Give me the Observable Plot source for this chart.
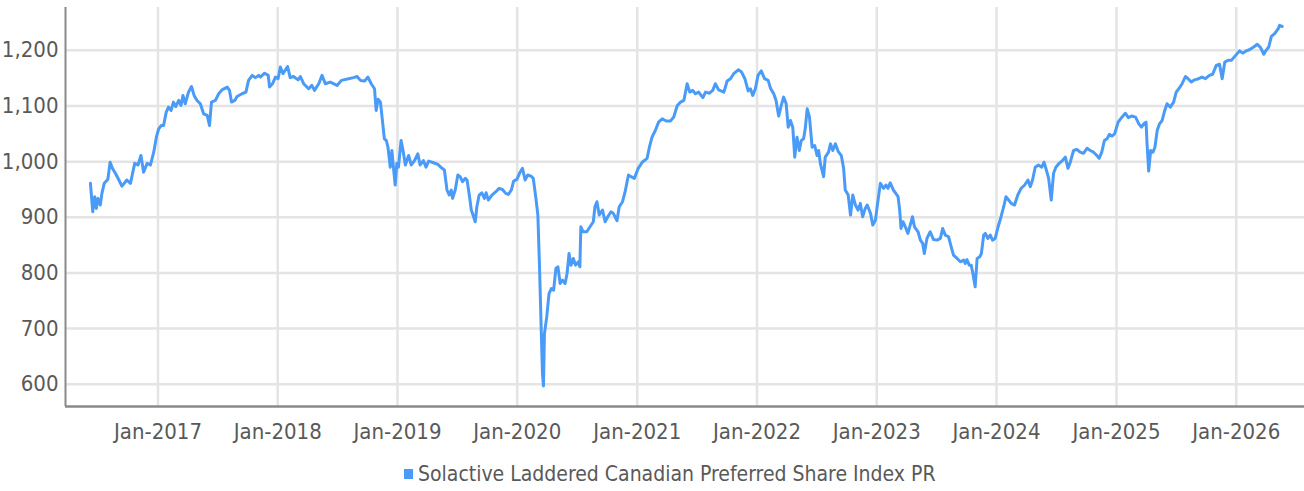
<!DOCTYPE html>
<html>
<head>
<meta charset="utf-8">
<script src="https://cdn.jsdelivr.net/npm/d3@7"></script>
<script src="https://cdn.jsdelivr.net/npm/@observablehq/plot@0.6"></script>
<style>
  html, body { margin: 0; padding: 0; background: #fff; }
  body { width: 1304px; height: 491px; position: relative; overflow: hidden;
         font-family: "Liberation Sans Narrow", "DejaVu Sans Condensed", "Roboto", sans-serif; color: #595959; }
  #legend { position: absolute; left: 404px; top: 462px; font-size: 21px; display: flex; align-items: center; white-space: nowrap; }
  #legend .sw { width: 9px; height: 10px; background: #4a9bf8; margin-right: 5px; }
</style>
</head>
<body>
<div id="chart"></div>
<div id="legend"><span class="sw"></span><span id="legend-text"></span></div>
<script>
const seriesName = "Solactive Laddered Canadian Preferred Share Index PR";
const lineColor = "#4a9bf8";

const dates = [
"2016-06-09","2016-06-16","2016-06-22","2016-06-27","2016-07-02","2016-07-09","2016-07-14","2016-07-21","2016-08-01","2016-08-08","2016-08-15","2016-08-27","2016-09-13","2016-09-28","2016-10-09","2016-10-22","2016-11-01","2016-11-10","2016-11-18","2016-11-29","2016-12-09","2016-12-19","2016-12-27",
"2017-01-03","2017-01-11","2017-01-18","2017-01-26","2017-02-02","2017-02-10","2017-02-17","2017-02-24","2017-03-05","2017-03-12","2017-03-18","2017-03-25","2017-04-04","2017-04-13","2017-04-21","2017-04-30","2017-05-10","2017-05-20","2017-05-31","2017-06-07","2017-06-13","2017-06-25","2017-07-05","2017-07-15","2017-07-31","2017-08-07","2017-08-13","2017-08-23","2017-08-30","2017-09-14","2017-09-26","2017-10-04","2017-10-15","2017-10-25","2017-11-04","2017-11-09","2017-11-22","2017-12-03","2017-12-07","2017-12-17","2017-12-25",
"2018-01-02","2018-01-09","2018-01-17","2018-01-31","2018-02-08","2018-02-18","2018-03-04","2018-03-11","2018-03-21","2018-04-05","2018-04-15","2018-04-23","2018-05-06","2018-05-16","2018-05-26","2018-06-10","2018-07-01","2018-07-14","2018-08-05","2018-08-20","2018-08-31","2018-09-10","2018-09-23","2018-10-03","2018-10-13","2018-10-23","2018-10-28","2018-11-03","2018-11-10","2018-11-15","2018-11-22","2018-11-28","2018-12-03","2018-12-10","2018-12-15","2018-12-20","2018-12-25","2018-12-30",
"2019-01-04","2019-01-12","2019-01-18","2019-01-25","2019-02-04","2019-02-12","2019-02-22","2019-03-04","2019-03-11","2019-03-21","2019-03-29","2019-04-06","2019-04-21","2019-05-04","2019-05-17","2019-05-24","2019-06-01","2019-06-08","2019-06-14","2019-06-18","2019-06-26","2019-07-04","2019-07-11","2019-07-18","2019-07-27","2019-08-01","2019-08-08","2019-08-14","2019-08-21","2019-08-26","2019-08-31","2019-09-07","2019-09-15","2019-09-23","2019-09-28","2019-10-05","2019-10-16","2019-10-28","2019-11-07","2019-11-17","2019-11-27","2019-12-05","2019-12-14","2019-12-21","2019-12-31",
"2020-01-08","2020-01-17","2020-01-25","2020-02-02","2020-02-12","2020-02-19","2020-02-27","2020-03-04","2020-03-09","2020-03-14","2020-03-18","2020-03-21","2020-03-24","2020-03-31","2020-04-07","2020-04-14","2020-04-21","2020-04-28","2020-05-04","2020-05-11","2020-05-18","2020-05-26","2020-06-01","2020-06-07","2020-06-13","2020-06-20","2020-06-27","2020-07-05","2020-07-10","2020-07-13","2020-07-20","2020-07-31","2020-08-10","2020-08-20","2020-08-25","2020-08-31","2020-09-07","2020-09-10","2020-09-17","2020-09-25","2020-10-03","2020-10-13","2020-10-20","2020-10-31","2020-11-07","2020-11-17","2020-11-25","2020-12-05","2020-12-13","2020-12-23",
"2021-01-04","2021-01-16","2021-01-31","2021-02-07","2021-02-15","2021-02-25","2021-03-07","2021-03-18","2021-03-30","2021-04-12","2021-04-22","2021-05-03","2021-05-13","2021-05-23","2021-06-02","2021-06-10","2021-06-19","2021-06-27","2021-07-07","2021-07-20","2021-07-28","2021-08-09","2021-08-19","2021-08-27","2021-09-06","2021-09-22","2021-10-02","2021-10-12","2021-10-22","2021-11-05","2021-11-15","2021-11-25","2021-12-05","2021-12-12","2021-12-19","2021-12-27",
"2022-01-04","2022-01-14","2022-01-24","2022-02-04","2022-02-11","2022-02-21","2022-02-28","2022-03-08","2022-03-16","2022-03-23","2022-03-31","2022-04-06","2022-04-13","2022-04-20","2022-04-26","2022-05-03","2022-05-10","2022-05-16","2022-05-23","2022-05-28","2022-06-03","2022-06-10","2022-06-18","2022-06-26","2022-07-03","2022-07-08","2022-07-13","2022-07-23","2022-07-28","2022-08-07","2022-08-13","2022-08-20","2022-08-28","2022-09-05","2022-09-15","2022-09-22","2022-09-27","2022-10-06","2022-10-13","2022-10-20","2022-10-28","2022-11-05","2022-11-12","2022-11-19","2022-11-27","2022-12-03","2022-12-13","2022-12-20","2022-12-28",
"2023-01-05","2023-01-12","2023-01-22","2023-01-29","2023-02-04","2023-02-11","2023-02-21","2023-03-07","2023-03-12","2023-03-16","2023-03-22","2023-03-29","2023-04-06","2023-04-13","2023-04-20","2023-04-26","2023-05-07","2023-05-14","2023-05-21","2023-05-26","2023-06-03","2023-06-13","2023-06-23","2023-07-04","2023-07-14","2023-07-21","2023-07-29","2023-08-08","2023-08-16","2023-08-23","2023-09-03","2023-09-13","2023-09-23","2023-09-28","2023-10-03","2023-10-10","2023-10-16","2023-10-21","2023-10-28","2023-11-03","2023-11-11","2023-11-16","2023-11-23","2023-11-28","2023-12-06","2023-12-13","2023-12-20","2023-12-28",
"2024-01-06","2024-01-15","2024-01-23","2024-01-30","2024-02-07","2024-02-15","2024-02-25","2024-03-06","2024-03-16","2024-03-27","2024-04-06","2024-04-13","2024-04-20","2024-04-28","2024-05-08","2024-05-18","2024-05-25","2024-06-01","2024-06-08","2024-06-16","2024-06-23","2024-06-30","2024-07-10","2024-07-20","2024-07-29","2024-08-06","2024-08-13","2024-08-23","2024-09-02","2024-09-12","2024-09-22","2024-10-03","2024-10-13","2024-10-23","2024-11-02","2024-11-09","2024-11-17","2024-11-25","2024-12-03","2024-12-10","2024-12-18","2024-12-26",
"2025-01-06","2025-01-16","2025-01-28","2025-02-06","2025-02-16","2025-02-28","2025-03-10","2025-03-18","2025-03-25","2025-04-01","2025-04-04","2025-04-09","2025-04-15","2025-04-22","2025-04-28","2025-05-05","2025-05-12","2025-05-20","2025-05-28","2025-06-04","2025-06-14","2025-06-24","2025-07-02","2025-07-12","2025-07-20","2025-07-30","2025-08-07","2025-08-17","2025-08-27","2025-09-08","2025-09-19","2025-09-29","2025-10-11","2025-10-21","2025-11-01","2025-11-11","2025-11-19","2025-11-27","2025-12-07","2025-12-17","2025-12-30",
"2026-01-11","2026-01-21","2026-01-31","2026-02-10","2026-02-23","2026-03-06","2026-03-16","2026-03-26","2026-04-02","2026-04-10","2026-04-18","2026-04-28","2026-05-09","2026-05-13","2026-05-21"
];

const values = [
961,910,937,916,934,922,943,961,968,999,988,976,956,967,961,997,994,1011,981,997,994,1017,1044,
1059,1065,1065,1089,1098,1092,1107,1099,1110,1101,1119,1104,1125,1135,1119,1110,1104,1086,1083,1065,1107,1110,1122,1129,1134,1128,1107,1110,1117,1122,1125,1146,1155,1151,1155,1152,1159,1155,1134,1141,1152,
1149,1170,1158,1171,1151,1153,1147,1153,1140,1131,1137,1128,1140,1155,1140,1143,1137,1146,1149,1151,1153,1146,1145,1152,1140,1131,1092,1112,1107,1080,1041,1038,1026,990,1020,988,958,997,
990,1038,1020,994,1011,994,1002,1014,994,1002,990,1001,998,995,988,985,949,940,949,934,949,976,973,964,970,967,940,913,901,892,919,940,944,934,944,931,940,946,952,950,943,941,949,965,968,
979,988,967,976,974,970,934,904,811,703,619,597,691,721,763,772,769,808,811,781,787,781,799,835,814,826,814,820,811,883,874,874,883,892,919,928,904,907,913,892,901,910,907,894,919,928,946,976,973,970,
988,999,1006,1026,1044,1056,1071,1077,1073,1073,1080,1101,1107,1110,1140,1125,1128,1122,1125,1115,1125,1123,1128,1140,1129,1125,1145,1149,1158,1165,1161,1149,1127,1131,1119,1131,
1155,1163,1149,1146,1132,1122,1110,1082,1101,1116,1104,1062,1074,1062,1008,1044,1020,1038,1041,1059,1095,1080,1026,1029,1011,1020,997,973,1008,1017,1032,1020,1032,1019,1011,988,949,940,904,940,922,913,925,901,916,922,907,886,895,
931,961,952,958,952,962,949,937,913,880,892,883,871,886,901,883,874,859,853,835,862,874,860,859,862,880,868,865,847,832,826,820,823,817,824,814,814,799,775,826,829,835,868,871,862,868,859,862,
883,901,919,937,931,925,922,940,952,958,967,955,967,990,994,990,999,985,970,931,979,990,997,1002,1008,988,999,1020,1022,1017,1015,1024,1020,1017,1011,1006,1017,1038,1041,1049,1046,1050,
1071,1079,1087,1079,1082,1080,1068,1062,1068,1071,1032,983,1020,1017,1026,1056,1068,1074,1092,1104,1098,1107,1125,1133,1140,1153,1149,1143,1147,1149,1152,1149,1155,1157,1173,1175,1149,1179,1182,1182,1191,
1199,1195,1199,1201,1206,1211,1205,1193,1200,1206,1225,1230,1239,1245,1243
];

const yTicks = [600, 700, 800, 900, 1000, 1100, 1200];
const xTickYears = [2017, 2018, 2019, 2020, 2021, 2022, 2023, 2024, 2025, 2026];
const xDomain = ["2016-03-25", "2026-07-28"];
const yDomain = [560, 1277];

const parse = d3.utcParse("%Y-%m-%d");
const data = dates.map((d, i) => ({date: parse(d), value: values[i]}));
const xTicks = xTickYears.map(y => new Date(Date.UTC(y, 0, 1)));
const font = '"Liberation Sans Narrow", "DejaVu Sans Condensed", "Roboto", sans-serif';

const chart = Plot.plot({
  width: 1304,
  height: 450,
  marginLeft: 65,
  marginRight: 0,
  marginTop: 7,
  marginBottom: 44,
  style: {fontFamily: font, fontSize: "22px", color: "#595959", background: "#fff"},
  x: {type: "utc", domain: xDomain.map(parse), label: null},
  y: {domain: yDomain, label: null},
  marks: [
    Plot.gridX(xTicks, {stroke: "#e4e4e4", strokeOpacity: 1, strokeWidth: 2.5}),
    Plot.gridY(yTicks, {stroke: "#e4e4e4", strokeOpacity: 1, strokeWidth: 2.5}),
    Plot.axisX(xTicks, {tickSize: 0, tickPadding: 17, tickFormat: d3.utcFormat("Jan-%Y"), fontSize: 22, label: null}),
    Plot.axisY(yTicks, {tickSize: 0, tickPadding: 7, tickFormat: d3.format(","), fontSize: 22, label: null}),
    Plot.ruleX([parse(xDomain[0])], {stroke: "#8a8a8a", strokeWidth: 2}),
    Plot.ruleY([yDomain[0]], {stroke: "#8a8a8a", strokeWidth: 2.5}),
    Plot.line(data, {x: "date", y: "value", stroke: lineColor, strokeWidth: 3, curve: "linear"})
  ]
});
document.getElementById("chart").appendChild(chart);
document.getElementById("legend-text").textContent = seriesName;
</script>
</body>
</html>
